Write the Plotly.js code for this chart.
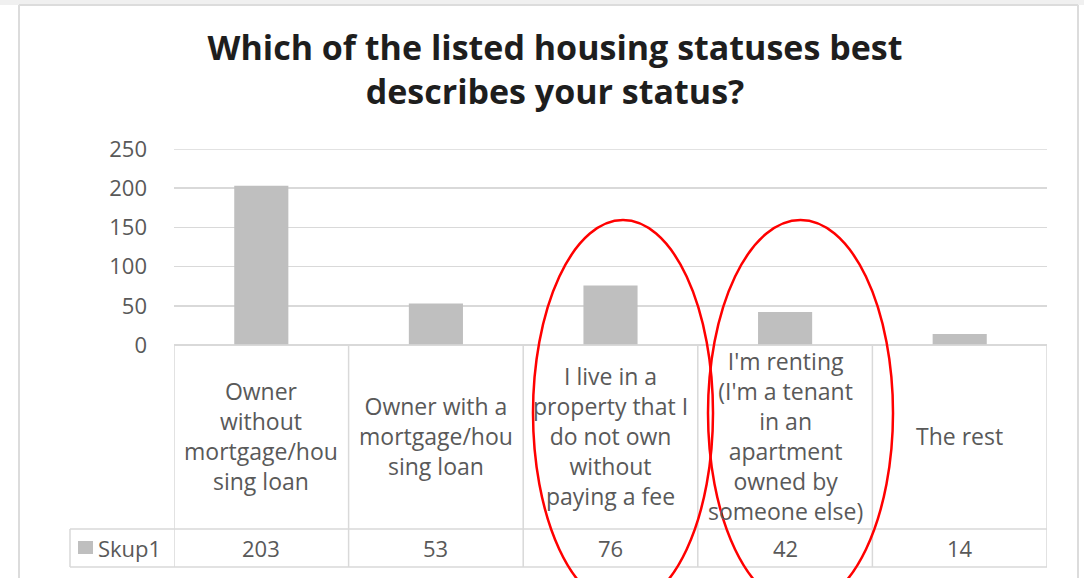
<!DOCTYPE html>
<html>
<head>
<meta charset="utf-8">
<script src="https://cdn.plot.ly/plotly-3.0.1.min.js"></script>
<style>
html,body{margin:0;padding:0;background:#fff;}
#chart{width:1084px;height:578px;}
</style>
</head>
<body>
<div id="chart"></div>
<script>
// ---- data ----
const categories = [
  "Owner without mortgage/housing loan",
  "Owner with a mortgage/housing loan",
  "I live in a property that I do not own without paying a fee",
  "I'm renting (I'm a tenant in an apartment owned by someone else)",
  "The rest"
];
const categoryLabels = [
  "Owner<br>without<br>mortgage/hou<br>sing loan",
  "Owner with a<br>mortgage/hou<br>sing loan",
  "I live in a<br>property that I<br>do not own<br>without<br>paying a fee",
  "I'm renting<br>(I'm a tenant<br>in an<br>apartment<br>owned by<br>someone else)",
  "The rest"
];
const seriesName = "Skup1";
const values = [203, 53, 76, 42, 14];
const yTicks = [0, 50, 100, 150, 200, 250];
const titleText = "Which of the listed housing statuses best<br>describes your status?";

// ---- layout geometry (pixels) ----
const Wd = 1084, Ht = 578;
const L = 174, R = 37, T = 149, B = 233;
const PW = Wd - L - R, PH = Ht - T - B;
const px = x => (x - L) / PW;          // pixel x -> paper x
const py = y => (T + PH - y) / PH;     // pixel y -> paper y

const grid = '#d9d9d9';
const txt = '#595959';
const font = '"Open Sans", "DejaVu Sans", sans-serif';

const shapes = [];
const annotations = [];

// page frame
shapes.push({type:'rect', xref:'paper', yref:'paper', x0:px(0), x1:px(Wd), y0:py(0), y1:py(5), fillcolor:'#f0f0f0', line:{width:0}, layer:'below'});
shapes.push({type:'line', xref:'paper', yref:'paper', x0:px(19), x1:px(19), y0:py(5), y1:py(Ht), line:{color:'#dcdcdc', width:2}});
shapes.push({type:'line', xref:'paper', yref:'paper', x0:px(19), x1:px(1078), y0:py(5), y1:py(5), line:{color:'#dcdcdc', width:2}});
shapes.push({type:'line', xref:'paper', yref:'paper', x0:px(1078), x1:px(1078), y0:py(5), y1:py(Ht), line:{color:'#dcdcdc', width:2}});

// top gridline (at the range edge)
shapes.push({type:'line', xref:'paper', yref:'y', x0:0, x1:1, y0:yTicks[yTicks.length - 1], y1:yTicks[yTicks.length - 1], line:{color:grid, width:1.5}, layer:'below'});

// data table
const tableTop = 345, rowSplit = 529, tableBottom = 567, legendLeft = 70;
const n = categories.length;
for (let i = 0; i <= n; i++) {
  shapes.push({type:'line', xref:'x', yref:'paper', x0:i - 0.5, x1:i - 0.5, y0:py(tableTop), y1:py(tableBottom), line:{color:grid, width:1.5}});
}
shapes.push({type:'line', xref:'paper', yref:'paper', x0:px(L), x1:1, y0:py(tableTop), y1:py(tableTop), line:{color:grid, width:1.5}});
shapes.push({type:'line', xref:'paper', yref:'paper', x0:px(legendLeft), x1:1, y0:py(rowSplit), y1:py(rowSplit), line:{color:grid, width:1.5}});
shapes.push({type:'line', xref:'paper', yref:'paper', x0:px(legendLeft), x1:1, y0:py(tableBottom), y1:py(tableBottom), line:{color:grid, width:1.5}});
shapes.push({type:'line', xref:'paper', yref:'paper', x0:px(legendLeft), x1:px(legendLeft), y0:py(rowSplit), y1:py(tableBottom), line:{color:grid, width:1.5}});
// legend key
shapes.push({type:'rect', xref:'paper', yref:'paper', x0:px(78), x1:px(93), y0:py(554), y1:py(541), fillcolor:'#bfbfbf', line:{width:0}});
annotations.push({xref:'paper', yref:'paper', x:px(96), y:py(547.5), xanchor:'left', yanchor:'middle', text:seriesName, showarrow:false, font:{family:font, size:22, color:txt}});

categories.forEach((c, i) => {
  annotations.push({xref:'x', yref:'paper', x:i, y:py(436), xanchor:'center', yanchor:'middle', text:categoryLabels[i], showarrow:false, align:'center', font:{family:font, size:23, color:txt}});
  annotations.push({xref:'x', yref:'paper', x:i, y:py(547.5), xanchor:'center', yanchor:'middle', text:String(values[i]), showarrow:false, font:{family:font, size:22, color:txt}});
});

// red highlight ellipses
shapes.push({type:'circle', xref:'paper', yref:'paper', x0:px(533), x1:px(713), y0:py(606), y1:py(220), line:{color:'#ff0000', width:2.5}});
shapes.push({type:'circle', xref:'paper', yref:'paper', x0:px(708), x1:px(893), y0:py(606), y1:py(220), line:{color:'#ff0000', width:2.5}});

const trace = {
  type:'bar',
  x: categories.map((c, i) => i),
  y: values,
  name: seriesName,
  marker:{color:'#bfbfbf'},
  width:0.31,
  hoverinfo:'skip'
};

const layout = {
  width:Wd, height:Ht,
  margin:{l:L, r:R, t:T, b:B, pad:0},
  paper_bgcolor:'#ffffff',
  plot_bgcolor:'#ffffff',
  showlegend:false,
  title:{
    text:titleText,
    x:555 / Wd, xanchor:'center', xref:'container',
    y:1 - 60 / Ht, yanchor:'top', yref:'container',
    font:{family:font, size:34, color:'#1e1e1e', weight:700}
  },
  xaxis:{range:[-0.5, n - 0.5], showticklabels:false, showgrid:false, zeroline:false, showline:false, ticks:'', fixedrange:true},
  yaxis:{
    range:[0, 250], tickvals:yTicks, ticktext:yTicks.map(String),
    showgrid:true, gridcolor:grid, gridwidth:1.5,
    zeroline:true, zerolinecolor:grid, zerolinewidth:1.5,
    showline:false, ticks:'', ticklabelstandoff:26,
    tickfont:{family:font, size:22, color:txt}, fixedrange:true
  },
  shapes:shapes,
  annotations:annotations
};

Plotly.newPlot('chart', [trace], layout, {displayModeBar:false, staticPlot:true});
</script>
</body>
</html>
